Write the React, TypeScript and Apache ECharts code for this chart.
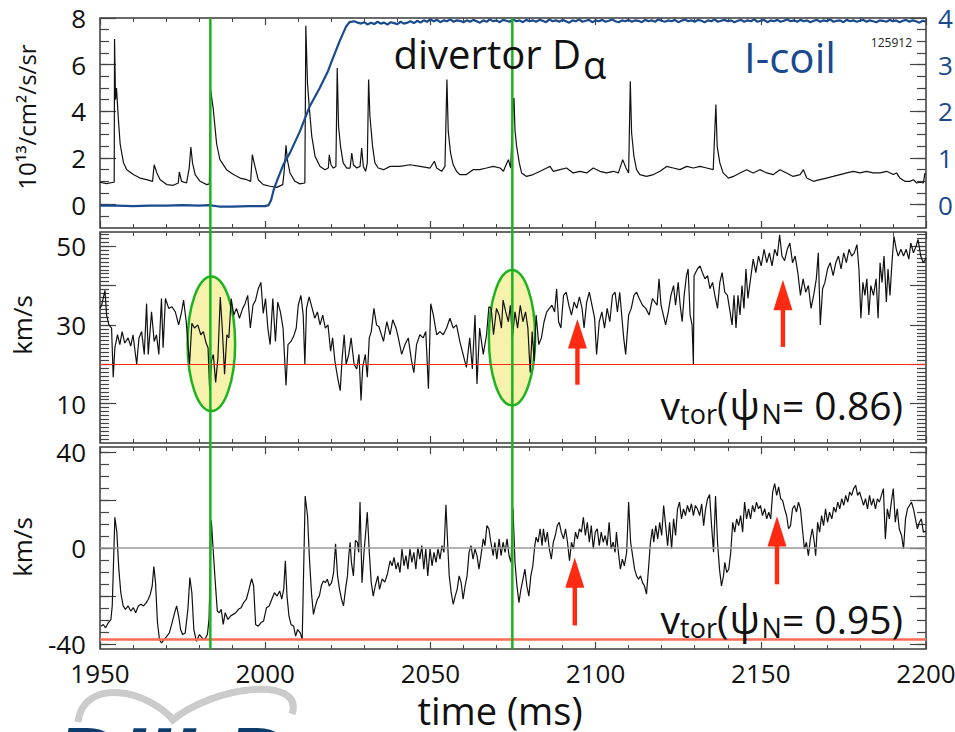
import React, { useEffect, useRef } from "react";
import * as echarts from "echarts";

const FONT = '"Open Sans", "DejaVu Sans", sans-serif';

// ---------- data (time in ms) ----------
const DALPHA: [number, number][] = [
  [1950.0,0.96],[1952.0,0.9],[1954.0,0.96],[1954.3,0.96],[1954.4,7.1],[1954.7,4.5],[1955.0,5.0],[1955.5,3.8],[1956.1,2.6],[1957.1,1.8],[1958.1,1.5],[1960.1,1.29],[1962.1,1.14],[1964.1,1.07],[1965.9,1.0],[1966.4,1.71],[1967.2,1.36],[1968.2,1.07],[1970.2,0.86],[1972.2,0.83],[1973.7,0.93],[1974.0,1.4],[1974.7,1.0],[1976.2,0.93],[1977.0,1.57],[1977.5,2.47],[1978.0,1.79],[1978.8,1.29],[1980.3,1.0],[1982.3,0.86],[1983.1,0.89],[1983.5,4.9],[1984.3,4.07],[1985.3,2.6],[1986.3,1.93],[1988.3,1.5],[1990.4,1.29],[1992.4,1.14],[1994.4,1.07],[1995.6,1.0],[1996.1,2.14],[1996.9,1.64],[1997.9,1.07],[1999.4,0.86],[2001.5,0.79],[2003.5,0.74],[2005.3,0.86],[2005.7,1.36],[2006.3,2.54],[2006.7,1.93],[2007.5,1.36],[2009.0,1.0],[2010.5,0.89],[2012.0,0.93],[2012.3,7.67],[2012.8,5.2],[2013.4,4.07],[2014.1,2.93],[2015.1,2.07],[2016.6,1.64],[2018.1,1.5],[2019.1,1.57],[2019.4,2.14],[2019.9,1.71],[2020.6,1.57],[2021.4,1.64],[2021.8,5.86],[2022.2,3.36],[2022.8,2.5],[2023.6,1.79],[2024.7,1.57],[2025.7,1.57],[2026.2,2.21],[2026.7,1.71],[2027.7,1.57],[2028.7,1.64],[2029.2,2.43],[2029.7,1.64],[2030.4,1.43],[2030.9,1.79],[2031.3,5.36],[2031.7,3.79],[2032.5,2.5],[2033.2,1.79],[2034.2,1.57],[2035.8,1.5],[2037.8,1.64],[2040.8,1.64],[2043.8,1.71],[2046.9,1.64],[2049.9,1.57],[2051.2,1.86],[2051.9,1.57],[2053.4,1.43],[2054.4,1.64],[2055.0,5.36],[2055.4,3.14],[2056.1,2.21],[2056.9,1.71],[2057.9,1.43],[2058.9,1.29],[2060.9,1.29],[2062.9,1.5],[2064.9,1.5],[2067.0,1.57],[2069.0,1.64],[2071.1,1.57],[2072.1,1.43],[2072.9,1.71],[2073.6,1.93],[2074.3,1.57],[2075.1,4.5],[2075.3,4.57],[2075.6,3.2],[2076.1,2.5],[2076.9,1.79],[2077.6,1.36],[2079.1,1.21],[2081.1,1.29],[2083.2,1.43],[2085.2,1.57],[2086.2,1.64],[2087.2,1.43],[2089.2,1.5],[2091.2,1.57],[2093.2,1.36],[2095.3,1.43],[2097.3,1.36],[2099.3,1.57],[2101.3,1.43],[2103.3,1.36],[2105.4,1.43],[2106.9,1.36],[2108.2,1.93],[2109.2,1.57],[2110.0,1.36],[2110.5,5.29],[2110.9,3.07],[2111.6,2.07],[2112.4,1.5],[2113.4,1.29],[2115.4,1.21],[2117.5,1.29],[2119.5,1.43],[2121.5,1.64],[2123.5,1.57],[2125.5,1.5],[2127.6,1.64],[2129.6,1.57],[2131.6,1.64],[2133.6,1.57],[2135.6,1.5],[2136.4,4.29],[2136.8,2.5],[2137.6,1.79],[2138.6,1.36],[2140.2,1.14],[2141.7,1.21],[2143.7,1.36],[2145.7,1.5],[2147.7,1.36],[2149.7,1.5],[2151.8,1.36],[2153.8,1.29],[2155.8,1.5],[2157.8,1.36],[2159.8,1.21],[2161.9,1.29],[2162.9,1.5],[2163.9,1.14],[2165.9,1.0],[2167.9,1.07],[2169.9,1.14],[2171.9,1.21],[2174.0,1.29],[2176.0,1.36],[2178.0,1.43],[2180.0,1.36],[2182.0,1.43],[2184.0,1.36],[2186.1,1.36],[2188.1,1.43],[2190.1,1.29],[2191.1,1.36],[2192.1,1.14],[2193.6,1.0],[2195.1,1.0],[2196.2,1.07],[2197.2,0.93],[2198.2,0.96],[2199.2,0.93],[2199.7,1.36]
];

const ICOIL_RAMP: [number, number][] = [
  [1950,-0.02],[1955,-0.02],[1960,-0.03],[1965,-0.02],[1970,-0.02],[1975,-0.01],[1980,-0.02],[1983,-0.01],[1986,-0.04],[1990,-0.04],[1995,-0.03],[2000,-0.03],[2001,-0.01],[2001.8,0.1],[2002.5,0.3],[2003.5,0.5],[2004.5,0.68],[2005.5,0.86],[2007.5,1.11],[2010.5,1.57],[2013.5,2.11],[2016.5,2.5],[2019,2.86],[2020.5,3.14],[2022.5,3.5],[2024.5,3.82],[2025.5,3.91],[2027,3.93],[2028,3.9]
];
const ICOIL_TAIL_START = 2029;
const ICOIL_TAIL: number[] = [
  3.88,3.91,3.86,3.90,3.87,3.92,3.88,3.90,3.86,3.91,3.89,3.87,3.92,3.88,3.90,3.93,3.89,
  3.94,3.90,3.95,3.92,3.97,3.93,3.96,3.91,3.95,3.93,3.97,3.92,3.95,3.94,3.91,
  3.95,3.92,3.96,3.93,3.90,3.95,3.92,3.97,3.93,3.95,3.91,3.96,3.94,3.92,3.97,3.93,3.95,3.91,3.96,3.93,
  3.95,3.92,3.96,3.94,3.91,3.97,3.93,3.95,3.92,3.96,3.93,3.90,3.95,3.93,3.97,3.92,3.94,3.96,3.91,3.95,
  3.93,3.96,3.92,3.94,3.97,3.93,3.91,3.95,3.93,3.96,3.92,3.95,3.94,3.91,3.96,3.93,3.95,3.92,3.97,3.94,
  3.92,3.95,3.93,3.96,3.91,3.94,3.97,3.93,3.95,3.92,3.96,3.94,3.91,3.95,3.93,3.97,3.92,3.94,3.96,3.93,
  3.95,3.91,3.94,3.96,3.92,3.95,3.93,3.97,3.92,3.94,3.96,3.91,3.95,3.93,3.96,3.92,3.94,3.97,3.93,3.95,
  3.92,3.96,3.93,3.95,3.91,3.94,3.96,3.92,3.95,3.93,3.97,3.92,3.94,3.95,3.91,3.96,3.93,3.95,3.92,3.94,
  3.96,3.92,3.95,3.93,3.91,3.95,3.94,3.92,3.96,3.93,3.95,3.91,3.94,3.96,3.92,3.95,3.93,3.90,3.94,3.92
];

const VTOR_086: [number, number][] = [
  [1950.0,34.2],[1950.5,35],[1951.5,38.8],[1952.0,32.5],[1952.7,30],[1953.5,29.2],[1954.0,16.7],[1954.5,24.2],[1955.3,27.5],[1956.0,25],[1956.7,28.3],[1957.5,25.4],[1958.5,26.7],[1959.3,24.6],[1960.0,27.5],[1961.1,20],[1961.8,26.7],[1962.6,28.3],[1963.4,22.5],[1964.1,35.4],[1964.6,22.5],[1965.6,33.3],[1966.4,25.8],[1967.1,27.5],[1967.8,22.5],[1968.6,36.7],[1969.1,24.2],[1969.8,36.7],[1970.8,34.2],[1971.8,34.6],[1972.8,33.3],[1973.8,30],[1974.6,32.9],[1975.3,36.3],[1976.1,30.8],[1977.1,20],[1977.8,30.4],[1978.6,29.2],[1979.6,30],[1980.5,27.5],[1981.3,28.3],[1982.1,25.4],[1982.7,24.2],[1983.2,13.3],[1983.7,20.8],[1984.3,22.5],[1985.0,15.4],[1985.7,21.7],[1986.4,37.1],[1987.0,29.2],[1987.7,17.5],[1988.4,27.5],[1989.0,26.7],[1989.7,36.7],[1990.5,32.5],[1991.3,34.2],[1992.2,31.7],[1993.2,34.2],[1993.9,35.4],[1994.7,37.5],[1995.5,29.2],[1996.3,35],[1997.1,36.3],[1997.9,39.2],[1998.7,40.8],[1999.4,32.9],[2000.1,36.7],[2000.8,29.2],[2001.5,25],[2002.3,36.7],[2003.1,25.8],[2003.8,35.8],[2004.6,33.3],[2005.4,29.2],[2006.3,14.6],[2006.9,25],[2007.8,25.8],[2008.6,27.1],[2009.4,29.2],[2010.0,35],[2010.8,37.5],[2011.5,32.5],[2012.0,20],[2012.5,34.2],[2013.3,37.1],[2014.1,34.6],[2015.0,31.7],[2015.8,33.3],[2016.6,30],[2017.4,32.5],[2018.2,29.2],[2019.0,30],[2019.8,23.3],[2020.4,26.7],[2021.1,20.8],[2021.9,16.7],[2022.7,13.3],[2023.3,21.7],[2023.9,27.5],[2024.5,20],[2025.3,22.5],[2026.0,26.7],[2026.9,20],[2027.7,18.8],[2028.4,22.5],[2029.0,10.8],[2029.5,19.2],[2030.3,22.5],[2030.9,16.7],[2031.5,26.7],[2032.1,28.3],[2032.9,34.2],[2033.7,30],[2034.4,29.6],
  [2035.8,25.8],[2036.8,30.8],[2037.8,27.5],[2038.6,31.3],[2039.6,29.2],[2040.3,26.7],[2041.3,22.5],[2042.3,25],[2043.3,26.7],[2044.3,20.8],[2045.0,17.9],[2045.8,25],[2046.8,27.5],[2047.8,26.7],[2048.6,28.3],[2049.4,13.8],[2050.1,35.4],[2050.9,32.5],[2051.9,27.5],[2052.9,28.3],[2053.9,27.5],[2054.9,29.2],[2055.9,31.7],[2056.9,29.2],[2057.9,30],[2058.9,25.8],[2059.9,22.5],[2060.9,19.2],[2061.9,26.7],[2062.7,18.8],[2063.5,32.5],[2064.1,15],[2064.9,29.2],[2066.0,22.5],[2067.0,27.5],[2067.7,34.6],[2068.4,34.2],[2069.1,27.5],[2070.0,34.2],[2070.8,32.5],[2071.5,29.2],[2072.0,36.3],[2072.8,33.3],[2073.6,30.8],[2074.2,35],[2074.8,26.7],[2075.6,33.3],[2076.4,29.2],[2077.2,35],[2078.0,30.8],[2078.8,33.3],[2079.5,29.2],[2080.2,17.9],[2080.8,28.3],[2081.4,20.8],[2082.0,32.5],[2082.8,25],[2083.6,26.7],[2084.4,30.8],[2085.2,33.3],[2086.0,34.2],[2086.8,35],[2087.6,33.3],[2088.2,39.2],[2088.8,30.8],[2089.5,29.2],[2090.3,37.5],[2091.1,38.3],[2091.9,35],[2092.7,32.5],[2093.5,35.8],[2094.3,34.2],[2095.1,37.1],[2095.9,34.2],[2096.5,29.2],[2097.3,35.8],[2098.1,38.3],[2098.9,35],[2099.7,31.7],[2100.3,22.5],[2101.1,30.8],[2101.9,33.3],[2102.7,29.2],[2103.5,34.2],[2104.3,30.8],[2105.1,37.5],[2105.9,38.3],[2106.6,33.3],[2107.3,38.3],[2107.9,32.5],[2108.5,26.7],[2109.1,22.5],[2110.0,32.5],[2110.8,34.2],[2111.6,37.5],[2112.4,38.3],[2113.2,36.7],[2114.2,35],[2115.2,34.2],[2116.2,32.5],[2117.2,36.7],
  [2118.6,35],[2119.2,41.7],[2119.8,35],[2120.5,32.5],[2121.2,30],[2122.0,33.3],[2122.8,37.5],[2123.6,40],[2124.2,35],[2125.0,40.8],[2125.6,35],[2126.2,30.8],[2126.8,37.5],[2127.5,42.5],[2128.0,44.2],[2128.6,32.5],[2129.2,30],[2129.6,20],[2129.8,42.5],[2130.8,44.2],[2131.6,45],[2132.3,43.3],[2133.1,41.7],[2133.9,42.5],[2134.6,39.2],[2135.4,40.8],[2136.1,37.5],[2136.9,34.2],[2137.6,40.8],[2138.3,43.3],[2139.1,38.3],[2139.9,37.5],[2140.7,33.3],[2141.3,30],[2141.9,37.5],[2142.5,29.2],[2143.1,37.5],[2143.7,32.5],[2144.3,40],[2144.9,34.2],[2145.5,44.2],[2146.1,36.7],[2146.9,41.7],[2147.7,46.7],[2148.5,43.3],[2149.3,47.5],[2150.1,45],[2151.0,49.2],[2151.8,45.8],[2152.6,48.3],[2153.4,45],[2154.2,49.2],[2155.0,47.5],[2155.7,52.9],[2156.4,47.5],[2157.2,46.3],[2158.0,49.2],[2158.8,50.8],[2159.6,45.8],[2160.4,47.5],[2161.2,43.3],[2162.0,37.5],[2162.8,41.7],[2163.6,38.3],[2164.4,40],[2165.2,34.2],[2166.0,37.5],[2166.8,41.7],[2167.4,48.3],[2168.0,30],[2168.7,39.2],[2169.4,40.8],[2170.2,44.2],[2171.0,45.8],[2171.9,42.5],[2172.7,45.8],[2173.5,47.5],[2174.3,44.2],[2175.1,48.3],[2175.9,45.8],[2176.7,49.2],[2177.5,47.5],[2178.3,48.3],[2179.1,50.4],[2179.7,44.2],[2180.3,31.7],[2180.9,40.8],[2181.5,37.5],[2182.1,41.7],[2182.7,32.5],[2183.3,40],[2184.1,37.5],[2184.9,41.7],[2185.5,31.7],[2186.1,45.8],[2186.7,40.8],[2187.3,47.5],[2188.0,35.8],[2188.5,44.2],[2189.1,37.5],[2189.7,45.8],[2190.3,52.5],[2191.0,49.2],[2191.6,47.5],[2192.4,49.2],[2193.2,47.5],[2194.0,49.2],[2194.8,46.7],[2195.4,50.8],[2196.2,48.3],[2197.0,50],[2197.6,51.7],[2198.4,47.5],[2199.2,45.8],[2200.0,47]
];

const VTOR_095: [number, number][] = [
  [1950.3,-32.5],[1951.0,-31.8],[1951.7,-33.2],[1952.5,-31.1],[1953.3,-29.7],[1953.7,-24.1],[1954.5,12.8],[1955.1,6.6],[1955.7,-8.8],[1956.3,-18.6],[1957.0,-24.1],[1957.7,-25.5],[1958.5,-24.1],[1959.3,-26.2],[1960.1,-24.8],[1960.8,-26.9],[1961.6,-24.1],[1962.4,-23.4],[1963.2,-24.1],[1964.0,-22.7],[1964.6,-21.3],[1965.2,-19.3],[1965.8,-15.8],[1966.3,-7.7],[1966.8,-14.4],[1967.4,-31.1],[1968.0,-38.1],[1968.6,-39.5],[1969.4,-38.1],[1970.2,-36.7],[1971.0,-35.3],[1971.8,-31.1],[1972.6,-26.9],[1973.2,-24.1],[1973.8,-28.3],[1974.4,-33.9],[1975.0,-36],[1975.8,-35.3],[1976.6,-25.5],[1977.2,-12.3],[1977.8,-18.6],[1978.4,-33.9],[1979.2,-38.8],[1980.1,-36],[1980.9,-37.4],[1981.7,-38.1],[1982.5,-36],[1983.0,-29.7],[1983.7,11.4],[1984.3,-1.8],[1984.9,-14.4],[1985.5,-26.2],[1986.1,-26.9],[1986.7,-25.5],[1987.3,-31.8],[1987.9,-26.9],[1988.7,-29.7],[1989.5,-28.3],[1990.3,-27.6],[1991.1,-26.9],[1991.9,-25.5],[1992.7,-24.8],[1993.5,-22.7],[1994.3,-21.3],[1995.1,-17.2],[1995.9,-12.7],[1996.5,-15.8],[1997.1,-31.8],[1997.9,-32.5],[1998.7,-31.1],[1999.5,-30.4],[2000.4,-24.8],[2001.2,-24.1],[2002.0,-21.3],[2002.8,-18.6],[2003.6,-20],[2004.4,-17.9],[2005.0,-21.3],[2005.6,-17.2],[2006.1,-5.3],[2006.6,-20],[2007.2,-28.3],[2007.8,-31.8],[2008.6,-32.5],[2009.2,-36.7],[2009.8,-33.9],[2010.6,-35.3],[2011.2,-38.1],[2011.6,-11.6],[2012.1,21.6],[2012.8,13.5],[2013.4,-4.6],[2014.0,-18.6],[2014.6,-27.6],[2015.2,-24.1],[2015.8,-21.3],[2016.4,-19.9],[2017.0,-15.6],[2017.6,-13.7],[2018.2,-14.4],[2018.8,-13],[2019.4,-15.8],[2020.1,-14.4],[2020.7,-10.2],[2021.3,1.7],[2021.9,-11.6],[2022.5,-17.2],[2023.1,-21.3],[2023.7,-24.1],[2024.3,-17.2],[2024.9,-11.6],[2025.3,-3.2],[2025.7,2.4],[2026.1,-6],[2026.7,-11.6],[2027.3,3.1],[2027.9,2.4],[2028.3,-1.8],[2028.7,19.1],[2029.3,-14.4],[2029.9,-1.8],[2030.5,8],[2030.9,14.9],[2031.5,-1.8],[2032.1,-14.4],[2032.7,-20],[2033.3,-15.8],[2034.1,-11.6],
  [2034.6,-17.2],[2035.4,-12.8],[2036.2,-14.2],[2037.0,-10.8],[2037.8,-5.3],[2038.4,-7.4],[2039.0,-3.9],[2039.6,-8.8],[2040.2,-6],[2040.8,-10.2],[2041.4,-0.4],[2042.0,-7.4],[2042.6,-3.2],[2043.2,-8.8],[2043.8,-0.4],[2044.4,-6],[2045.0,-1.8],[2045.6,-8.8],[2046.2,0.3],[2046.8,-4.6],[2047.4,1],[2048.0,-8.8],[2048.6,-0.4],[2049.2,-11.6],[2049.9,-0.4],[2050.5,-7.4],[2051.1,-1.8],[2051.7,-6],[2052.3,-0.4],[2052.9,-4.6],[2053.5,1],[2054.1,-1.8],[2054.7,18],[2055.3,-0.4],[2055.7,-11.6],[2056.3,-18.6],[2056.9,-23.4],[2057.5,-20],[2058.1,-17.2],[2058.7,-11.6],[2059.3,-14.4],[2059.9,-21.3],[2060.5,-15.8],[2061.1,-11.6],[2061.7,-1.8],[2062.3,1],[2062.9,-4.6],[2063.5,-0.4],[2064.1,-3.2],[2064.7,-8.8],[2065.3,-3.2],[2066.0,3.8],[2066.5,1],[2067.1,9.3],[2067.7,8],[2068.3,2.4],[2069.0,-3.2],[2069.5,2.4],[2070.1,-4.6],[2070.8,3.8],[2071.4,-3.2],[2072.0,2.4],[2072.6,-1.8],[2073.2,3.8],[2073.8,-3.2],[2074.4,-6],[2075.0,16.3],[2075.6,-6],[2076.2,-15.8],[2076.8,-22.7],[2077.4,-17.2],[2078.0,-13],[2078.6,-8.8],[2079.2,-15.8],[2079.8,-20],[2080.4,-11.6],[2081.0,-7.4],[2081.6,1],[2082.0,4.5],[2082.6,2.4],[2083.2,8],[2083.8,1],[2084.2,8],[2084.8,2.4],[2085.4,6.6],[2086.0,-0.4],[2086.6,-4.6],[2087.2,2.4],[2087.8,5.2],[2088.4,9.3],[2089.0,10.7],[2089.6,6.6],[2090.3,3.8],[2090.9,8],[2091.5,2.4],[2092.1,-5.3],[2092.7,2.4],[2093.3,-0.4],[2093.9,6.6],[2094.5,3.8],[2095.1,8],[2095.7,6.6],[2096.3,12.8],[2096.9,5.2],[2097.5,10.7],[2098.1,2.4],[2098.7,9.3],[2099.3,-0.4],[2099.9,6.6],[2100.5,8],[2101.1,1],[2101.7,6.6],[2102.3,2.4],[2102.9,5.2],[2103.5,1],[2104.1,10.7],[2104.7,-0.4],[2105.3,2.4],[2105.9,-1.8],[2106.3,6.6],[2106.9,-1.8],[2107.5,-8.8],[2108.1,-4.6],[2108.7,-7.4],[2109.4,-1.8],[2110.0,19.1],[2110.6,2.4],[2111.2,-3.2],[2111.8,-8.8],[2112.4,-11.6],[2113.0,-13],[2113.6,-11.6],[2114.2,-14.4],[2114.8,-15.8],[2115.4,-19.2],[2116.0,-8.8],[2116.6,2.4],[2117.2,8],
  [2117.6,2.4],[2118.2,9.3],[2118.8,3.8],[2119.4,10.7],[2120.0,5.2],[2120.6,17.7],[2121.2,9.3],[2121.8,1],[2122.4,10.7],[2123.0,-0.4],[2123.6,12.1],[2124.2,5.2],[2124.8,16.3],[2125.4,19.1],[2126.0,12.1],[2126.6,16.3],[2127.2,13.5],[2127.8,17.7],[2128.4,14.9],[2129.0,18.4],[2129.6,13.5],[2130.2,17.7],[2130.8,16.3],[2131.5,13.5],[2132.1,18.4],[2132.7,9.3],[2133.3,16.3],[2133.9,20.5],[2134.5,22.2],[2135.1,9.3],[2135.7,-1.8],[2136.3,21.6],[2136.9,2.4],[2137.5,-8.8],[2138.1,-15.8],[2138.7,-11.6],[2139.1,-6],[2139.7,-10.2],[2140.3,-8.8],[2140.9,-1.8],[2141.5,10.7],[2142.1,6.6],[2142.7,12.1],[2143.3,9.3],[2143.9,13.5],[2144.5,6.6],[2145.1,19.1],[2145.7,12.1],[2146.3,16.3],[2146.9,12.1],[2147.5,17.7],[2148.1,14.9],[2148.7,19.1],[2149.3,16.3],[2149.9,17.7],[2150.5,13.5],[2151.2,16.3],[2151.8,12.1],[2152.4,14.9],[2153.0,12.1],[2153.6,23.3],[2154.2,26.8],[2154.8,21.9],[2155.4,25.4],[2156.0,20.5],[2156.6,19.8],[2157.2,16.3],[2157.8,13.5],[2158.4,8],[2159.0,9.3],[2159.6,16.3],[2160.2,17.7],[2160.8,14.9],[2161.4,19.1],[2162.0,16.3],[2162.6,8],[2163.2,-0.4],[2163.8,2.4],[2164.4,-3.2],[2165.0,3.8],[2165.6,8],[2166.2,2.4],[2166.6,-3.2],[2167.2,10.7],[2167.8,6.6],[2168.4,13.5],[2169.0,9.3],[2169.6,16.3],[2170.2,10.7],[2170.8,14.9],[2171.5,12.1],[2172.1,17],[2172.7,14.9],[2173.3,19.1],[2173.9,16.3],[2174.5,20.5],[2175.1,17.7],[2175.7,21.9],[2176.3,19.1],[2176.9,23.3],[2177.5,21.9],[2178.1,24.7],[2178.7,26.1],[2179.3,21.9],[2179.9,23.3],[2180.5,20.5],[2181.1,17.7],[2181.7,20.5],[2182.3,16.3],[2182.9,21.9],[2183.5,17.7],[2184.1,20.5],[2184.7,16.3],[2185.3,20.5],[2185.9,19.1],[2186.5,21.9],[2187.1,24.7],[2187.7,3.8],[2188.3,16.3],[2188.9,12.1],[2189.5,19.1],[2190.1,24.7],[2190.7,10.7],[2191.3,16.3],[2191.9,8],[2192.6,5.2],[2193.2,-0.4],[2193.8,12.1],[2194.4,16.3],[2195.0,17.7],[2195.6,19.1],[2196.2,16.3],[2196.8,12.1],[2197.4,8],[2198.0,10.7],[2198.6,12.1],[2199.2,6.6],[2200.0,7]
];

// reference levels and annotation times
const VTOR_086_REF = 20;
const VTOR_095_REF = -38;
const ELM_TIMES = [1983.4, 2074.8];
const ELLIPSES = [
  { t: 1983.7, v: 25.2, dt: 7.2, dv: 17.1 },
  { t: 2074.7, v: 26.75, dt: 7.0, dv: 17.2 },
];
const ARROWS_086 = [
  { t: 2094.5, tip: 31.5, base: 24, tail: 14.8 },
  { t: 2156.7, tip: 41.5, base: 33.75, tail: 24.4 },
];
const ARROWS_095 = [
  { t: 2093.7, tip: -3.9, base: -16.5, tail: -32.2 },
  { t: 2154.9, tip: 13.2, base: 0.6, tail: -15.1 },
];

// axis ranges & tick labels
const T_MIN = 1950, T_MAX = 2200;
const P1_MIN = -1, P1_MAX = 8;
const P1R_MIN = -0.5, P1R_MAX = 4;
const P2_MIN = 0, P2_MAX = 53.6;
const P3_MIN = -42, P3_MAX = 42;
const P1_LABELS = [0, 2, 4, 6, 8];
const P1R_LABELS = [0, 1, 2, 3, 4];
const P2_MAJOR = [10, 20, 30, 40, 50];
const P2_LABELS = [10, 30, 50];
const P3_MAJOR = [-40, -20, 0, 20, 40];
const P3_LABELS = [-40, 0, 40];

function range(a: number, b: number, step: number): number[] {
  const out: number[] = [];
  for (let v = a; v <= b + 1e-9; v += step) out.push(Math.round(v * 1000) / 1000);
  return out;
}

const TICK_COLOR = "#444";
const BLUE = "#1a4a8e";
const GREEN = "#1db320";
const RED = "#ff2a12";

function xPair(gridIndex: number, showLabels: boolean) {
  const base: any = {
    type: "value", gridIndex, min: T_MIN, max: T_MAX, interval: 50,
    axisLine: { show: false, onZero: false }, splitLine: { show: false },
    axisTick: { show: true, inside: true, length: 7, lineStyle: { color: TICK_COLOR, width: 1.2 } },
    minorTick: { show: true, splitNumber: 5, length: 4, lineStyle: { color: TICK_COLOR, width: 1 } },
    minorSplitLine: { show: false },
  };
  return [
    { ...base, position: "bottom", axisLabel: { show: showLabels, fontSize: 26, fontFamily: FONT, color: "#111", margin: 11, lineHeight: 26, formatter: (v: number) => String(v) } },
    { ...base, position: "top", axisLabel: { show: false } },
  ];
}

function yPair(gridIndex: number, position: string, min: number, max: number, minor: number[], major: number[], labels: number[], labelColor: string) {
  const base: any = { type: "value", gridIndex, position, min, max, axisLine: { show: false, onZero: false }, splitLine: { show: false } };
  return [
    { ...base, axisTick: { show: true, inside: true, length: 9, customValues: minor, lineStyle: { color: TICK_COLOR, width: 1.2 } }, axisLabel: { show: false } },
    {
      ...base,
      axisTick: { show: true, inside: true, length: 16, customValues: major, lineStyle: { color: TICK_COLOR, width: 1.2 } },
      axisLabel: { show: labels.length > 0, customValues: labels, fontSize: 26, fontFamily: FONT, color: labelColor, margin: position === "left" ? 14 : 12, formatter: (v: number) => String(v) },
    },
  ];
}

export default function App() {
  const ref = useRef<HTMLDivElement>(null);
  useEffect(() => {
    if (!ref.current) return;
    const chart = echarts.init(ref.current, undefined, { renderer: "svg" });
    const icoil: [number, number][] = [...ICOIL_RAMP, ...ICOIL_TAIL.map((v, i) => [ICOIL_TAIL_START + i, v] as [number, number])];

    const gridBase = { left: 100, width: 826, show: true, borderColor: "#3a3a3a", borderWidth: 1.5, backgroundColor: "transparent", containLabel: false, outerBoundsMode: "none" };
    const option: any = {
      animation: false,
      backgroundColor: "#ffffff",
      textStyle: { fontFamily: FONT },
      grid: [
        { ...gridBase, top: 18, height: 210 },
        { ...gridBase, top: 232, height: 211 },
        { ...gridBase, top: 447, height: 202 },
      ],
      xAxis: [...xPair(0, false), ...xPair(1, false), ...xPair(2, true)],
      yAxis: [
        ...yPair(0, "left", P1_MIN, P1_MAX, range(-0.5, 7.5, 0.5), P1_LABELS, P1_LABELS, "#111"),
        ...yPair(0, "right", P1R_MIN, P1R_MAX, range(-0.25, 3.75, 0.25), P1R_LABELS, P1R_LABELS, BLUE),
        ...yPair(1, "left", P2_MIN, P2_MAX, range(1, 53, 1), P2_MAJOR, P2_LABELS, "#111"),
        ...yPair(1, "right", P2_MIN, P2_MAX, range(1, 53, 1), P2_MAJOR, [], "#111"),
        ...yPair(2, "left", P3_MIN, P3_MAX, range(-40, 40, 5), P3_MAJOR, P3_LABELS, "#111"),
        ...yPair(2, "right", P3_MIN, P3_MAX, range(-40, 40, 5), P3_MAJOR, [], "#111"),
      ],
      series: [
        { type: "line", name: "divertor Dα", xAxisIndex: 0, yAxisIndex: 0, data: DALPHA, symbol: "none", lineStyle: { color: "#111", width: 1.2 }, z: 3 },
        { type: "line", name: "I-coil", xAxisIndex: 0, yAxisIndex: 2, data: icoil, symbol: "none", lineStyle: { color: BLUE, width: 2.2 }, z: 4 },
        {
          type: "line", name: "vtor 0.86", xAxisIndex: 2, yAxisIndex: 4, data: VTOR_086, symbol: "none", lineStyle: { color: "#111", width: 1.2 }, z: 3,
          markLine: { silent: true, symbol: ["none", "none"], label: { show: false }, lineStyle: { color: RED, width: 1.2, type: "solid" }, data: [{ yAxis: VTOR_086_REF }] },
        },
        {
          type: "line", name: "vtor 0.95", xAxisIndex: 4, yAxisIndex: 8, data: VTOR_095, symbol: "none", lineStyle: { color: "#111", width: 1.2 }, z: 3,
          markLine: {
            silent: true, symbol: ["none", "none"], label: { show: false },
            data: [
              { yAxis: 0, lineStyle: { color: "#9a9a9a", width: 1.5, type: "solid" } },
              { yAxis: VTOR_095_REF, lineStyle: { color: "#ff6a55", width: 2.5, type: "solid" } },
            ],
          },
        },
      ],
    };
    chart.setOption(option);

    const xp = (t: number) => chart.convertToPixel({ xAxisIndex: 0 }, t) as number;
    const yp = (yi: number, v: number) => chart.convertToPixel({ yAxisIndex: yi }, v) as number;

    const graphics: any[] = [];
    // ellipses (under the traces)
    ELLIPSES.forEach((e, i) => {
      const cx = xp(e.t), cy = yp(4, e.v);
      graphics.push({
        type: "ellipse", id: "ell" + i, z: 1,
        shape: { cx, cy, rx: Math.abs(xp(e.t + e.dt) - cx), ry: Math.abs(yp(4, e.v + e.dv) - cy) },
        style: { fill: "#f6f2ac", stroke: GREEN, lineWidth: 2.5 },
      });
    });
    // green vertical lines
    ELM_TIMES.forEach((t, i) => {
      const x = xp(t);
      graphics.push({ type: "line", id: "g" + i, z: 20, shape: { x1: x, y1: yp(0, P1_MAX), x2: x, y2: yp(8, P3_MIN) }, style: { stroke: GREEN, lineWidth: 2.5 } });
    });
    // red arrows
    const addArrow = (a: { t: number; tip: number; base: number; tail: number }, yi: number, id: string) => {
      const x = xp(a.t), yTip = yp(yi, a.tip), yBase = yp(yi, a.base), yTail = yp(yi, a.tail);
      graphics.push({ type: "polygon", id: id + "h", z: 20, shape: { points: [[x, yTip], [x - 9.5, yBase], [x + 9.5, yBase]] }, style: { fill: RED } });
      graphics.push({ type: "rect", id: id + "s", z: 20, shape: { x: x - 2.2, y: yBase - 1, width: 4.4, height: yTail - yBase + 1 }, style: { fill: RED } });
    };
    ARROWS_086.forEach((a, i) => addArrow(a, 4, "a86" + i));
    ARROWS_095.forEach((a, i) => addArrow(a, 8, "a95" + i));

    // texts
    const txt = (id: string, x: number, y: number, text: string, size: number, extra: any = {}, rot = 0) => ({
      type: "text", id, x, y, rotation: rot, z: 30,
      style: { text, fontSize: size, fontFamily: FONT, fill: "#111", align: "left", verticalAlign: "middle", ...extra },
    });
    graphics.push(txt("div", 581, 53, "divertor D", 40, { align: "right" }));
    graphics.push(txt("alpha", 583, 64, "α", 38));
    graphics.push(txt("icoil", 744, 56, "I-coil", 42, { fill: BLUE }));
    graphics.push(txt("shot", 912, 42, "125912", 12, { align: "right", fill: "#222" }));
    graphics.push(txt("ylab1", 26, 117, "10¹³/cm²/s/sr", 24, { align: "center" }, Math.PI / 2));
    graphics.push(txt("ylab2", 22, 325, "km/s", 26, { align: "center" }, Math.PI / 2));
    graphics.push(txt("ylab3", 22, 547, "km/s", 26, { align: "center" }, Math.PI / 2));
    graphics.push(txt("xlab", 500, 710, "time (ms)", 38, { align: "center", lineHeight: 30 }));
    const vt = (id: string, y: number, val: string) => ({
      type: "text", id, x: 903, y, z: 30,
      style: {
        text: "{m|v}{s|tor}{m|(}{p|ψ}{s|N}{m|= " + val + ")}",
        align: "right", verticalAlign: "middle",
        rich: {
          m: { fontSize: 39, fontFamily: FONT, fill: "#111", lineHeight: 46, verticalAlign: "middle" },
          p: { fontSize: 40, fontFamily: FONT, fill: "#111", lineHeight: 46, verticalAlign: "middle", padding: [0, 2, 0, 1] },
          s: { fontSize: 27, fontFamily: FONT, fill: "#111", lineHeight: 27, verticalAlign: "bottom" },
        },
      },
    });
    graphics.push(vt("vt86", 404, "0.86"));
    graphics.push(vt("vt95", 618, "0.95"));
    // DIII-D logo fragment at the bottom-left
    graphics.push({ type: "bezierCurve", id: "sw1", z: 5, shape: { x1: 78, y1: 722, cpx1: 84, cpy1: 676, cpx2: 150, cpy2: 690, x2: 175, y2: 722 }, style: { stroke: "#cbcbcb", lineWidth: 7, fill: null } });
    graphics.push({ type: "bezierCurve", id: "sw2", z: 5, shape: { x1: 170, y1: 722, cpx1: 215, cpy1: 684, cpx2: 305, cpy2: 676, x2: 292, y2: 714 }, style: { stroke: "#cbcbcb", lineWidth: 7, fill: null } });
    graphics.push({
      type: "text", id: "logo", x: 55, y: 760, z: 6,
      style: { text: "DIII-D", fontSize: 90, fontWeight: "bold", fontStyle: "italic", fontFamily: '"Liberation Sans", Arial, sans-serif', fill: "#0c3c6c", align: "left", verticalAlign: "middle" },
    });

    chart.setOption({ graphic: graphics });
    return () => chart.dispose();
  }, []);
  return <div ref={ref} style={{ position: "absolute", left: 0, top: 0, width: 955, height: 732 }} />;
}
